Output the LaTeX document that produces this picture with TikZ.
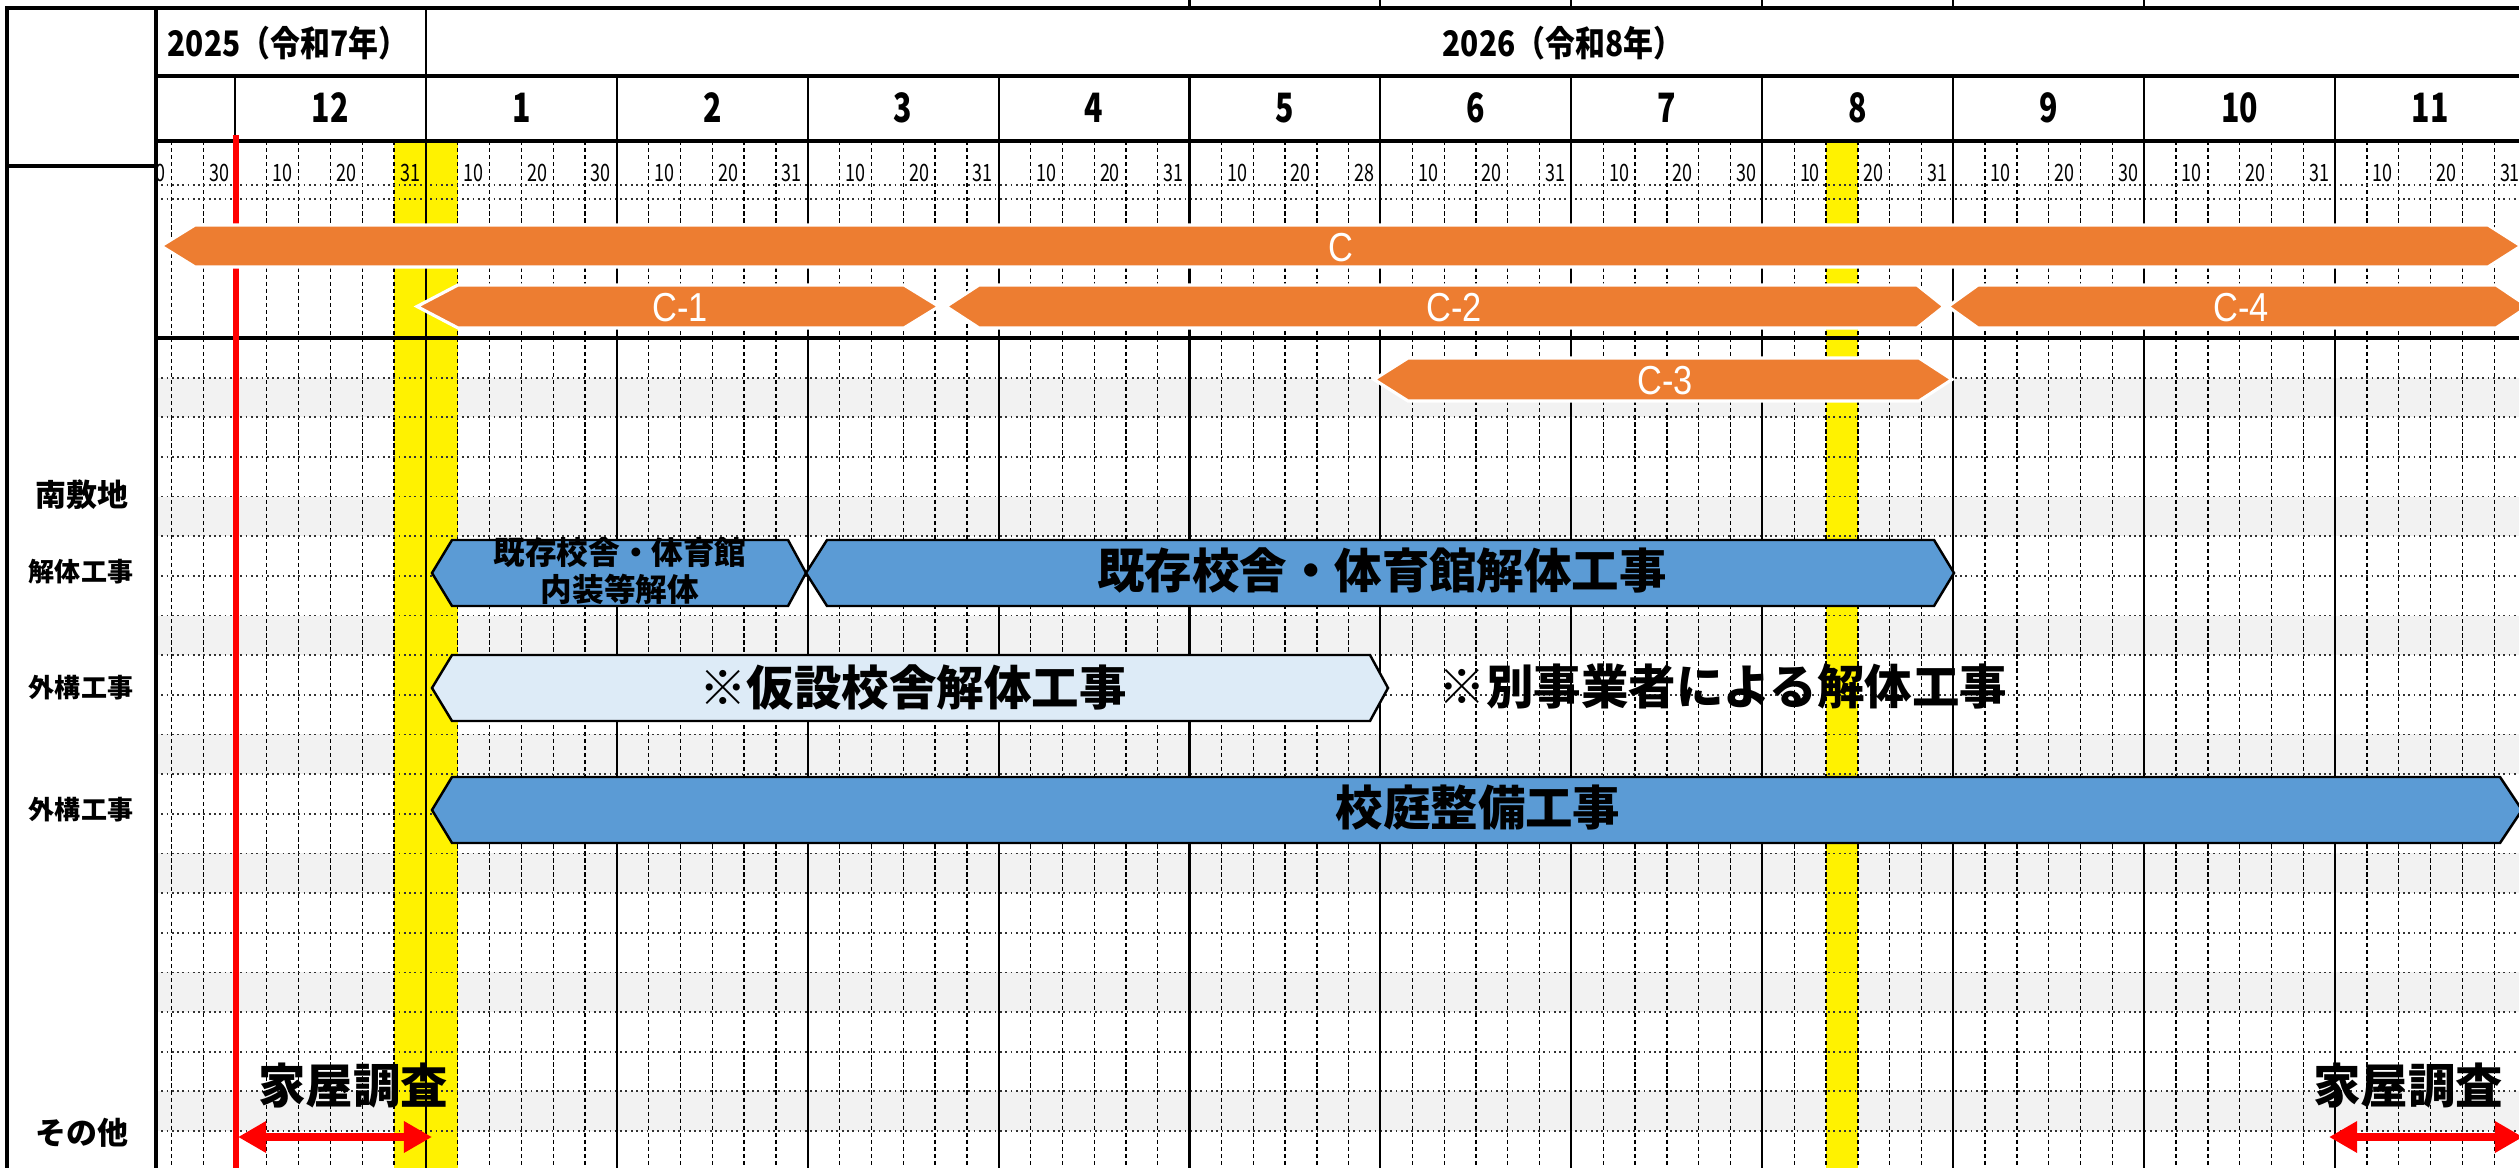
\documentclass[tikz,border=0pt]{standalone}
\usepackage{fontspec}
\setmainfont{Noto Sans CJK JP}
\newfontfamily\latinsans{Liberation Sans}
\usepackage{graphicx}
\usetikzlibrary{arrows.meta}
\definecolor{barorange}{HTML}{ED7D31}
\definecolor{barblue}{HTML}{5B9BD5}
\definecolor{barpale}{HTML}{DDEBF7}
\definecolor{rowgray}{HTML}{F2F2F2}

\begin{document}
\begin{tikzpicture}[
  x=0.01cm, y=-0.01cm,
  every node/.style={inner sep=0pt},
  subline/.style={line width=0.37pt,dash pattern=on 1.2pt off 0.8pt},
  rowline/.style={line width=0.5pt,densely dotted,black!80},
  monline/.style={line width=0.6pt},
  frameline/.style={line width=1pt},
  obar/.style={fill=barorange,draw=white,line width=0.9pt},
  bbar/.style={fill=barblue,draw=black,line width=0.7pt},
  pbar/.style={fill=barpale,draw=black,line width=0.7pt},
  ctxt/.style={font=\latinsans\fontsize{11.5}{12}\selectfont,text=white},
  bigtxt/.style={font=\fontsize{13.5}{15}\selectfont\bfseries},
  side/.style={font=\fontsize{8.8}{10}\selectfont\bfseries},
  sidesm/.style={font=\fontsize{7.4}{9}\selectfont\bfseries},
  yeartxt/.style={font=\fontsize{10}{11}\selectfont\bfseries},
  mnum/.style={font=\fontsize{11.5}{12}\selectfont\bfseries},
  dnum/.style={font=\fontsize{6.8}{7}\selectfont},
  survey/.style={{Triangle[length=8pt,width=8.5pt]}-{Triangle[length=8pt,width=8.5pt]},red,line width=2.3pt}
]
\useasboundingbox (0,0) rectangle (2519,1168);
\clip (0,0) rectangle (2519,1168);
\fill[white] (0,0) rectangle (2519,1168);

% shaded rows and highlighted days
\foreach \n in {1,4,...,19}
  \fill[rowgray] (156,{338+\n*39.65}) rectangle (2519,{338+(\n+1)*39.65});
\fill[yellow] (394.1,141) rectangle (457.7,1168);
\fill[yellow] (1825.8,141) rectangle (1857.7,1168);

% grid
\foreach \k in {-2,...,71}
  \draw[subline] ({235+\k*31.82},141) -- ({235+\k*31.82},1168);
\foreach \n in {1,...,20}
  \draw[rowline] (156,{338+\n*39.65}) -- (2519,{338+\n*39.65});
\draw[rowline] (156,185) -- (2519,185);
\draw[rowline] (156,199) -- (2519,199);
\foreach \m in {0,...,11}
  \draw[monline] ({235+\m*190.9},76) -- ({235+\m*190.9},1168);
\foreach \m in {5,...,10}
  \draw[monline] ({235+\m*190.9},0) -- ({235+\m*190.9},8);
\draw[monline] (426,8) -- (426,76);
\draw[line width=1.2pt] (7,1168) -- (7,8) -- (2519,8);
\draw[frameline] (156,8) -- (156,1168);
\draw[frameline] (156,76) -- (2519,76);
\draw[frameline] (156,141) -- (2519,141);
\draw[frameline] (7,166) -- (156,166);
\draw[frameline] (156,338) -- (2519,338);

% header
\node[yeartxt,anchor=west] (y2025) at (167,43) {\scalebox{0.85}[1]{2025（令和7年）}};
\node[yeartxt] (y2026) at (1563,43) {\scalebox{0.85}[1]{2026（令和8年）}};
\foreach \lab [count=\i from 0] in {12,1,2,3,4,5,6,7,8,9,10,11}
  \node[mnum] (mon\i) at ({235+(\i+0.5)*190.9},108) {\scalebox{0.75}[1]{\lab}};
\foreach \last [count=\i from 0] in {31,30,31,31,31,28,31,30,31,30,31,31} {
  \node[dnum] (day\i a) at ({235+\i*190.9+1.5*31.82},173) {\scalebox{0.75}[1]{10}};
  \node[dnum] (day\i b) at ({235+\i*190.9+3.5*31.82},173) {\scalebox{0.75}[1]{20}};
  \node[dnum] (day\i c) at ({235+\i*190.9+5.5*31.82},173) {\scalebox{0.75}[1]{\last}};
}
\begin{scope}
  \clip (156,141) rectangle (2519,200);
  \node[dnum] (daypb) at ({235-2.5*31.82},173) {\scalebox{0.75}[1]{20}};
  \node[dnum] (daypc) at ({235-0.5*31.82},173) {\scalebox{0.75}[1]{30}};
\end{scope}

% today line
\draw[red,line width=1.7pt] (236,135) -- (236,1168);

% row titles
\node[side] (south) at (82,495) {南敷地};
\node[sidesm] (demo) at (81,572) {解体工事};
\node[sidesm] (ext1) at (81,688) {外構工事};
\node[sidesm] (ext2) at (81,810) {外構工事};
\node[side] (misc) at (82,1133) {その他};

% orange bars
\draw[obar] (161,246) -- (195,225) -- (2488,225) -- (2521,246) -- (2488,267) -- (195,267) -- cycle;
\draw[obar] (417,306.5) -- (458,285) -- (904,285) -- (939,306.5) -- (904,328) -- (458,328) -- cycle;
\draw[obar] (946,306.5) -- (979,285) -- (1917,285) -- (1944,306.5) -- (1917,328) -- (979,328) -- cycle;
\draw[obar] (1948,306.5) -- (1978,285) -- (2496,285) -- (2528,306.5) -- (2496,328) -- (1978,328) -- cycle;
\draw[obar] (1374,379.5) -- (1408,358) -- (1919,358) -- (1952,379.5) -- (1919,401) -- (1408,401) -- cycle;
\node[ctxt] (c) at (1341,248) {\scalebox{0.85}[1]{C}};
\node[ctxt] (c1) at (680,308) {\scalebox{0.85}[1]{C-1}};
\node[ctxt] (c2) at (1454,308) {\scalebox{0.85}[1]{C-2}};
\node[ctxt] (c4) at (2241,308) {\scalebox{0.85}[1]{C-4}};
\node[ctxt] (c3) at (1665,381) {\scalebox{0.85}[1]{C-3}};

% blue bars
\draw[bbar] (432,573) -- (452,540) -- (788,540) -- (806,573) -- (788,606) -- (452,606) -- cycle;
\draw[bbar] (806,573) -- (827,540) -- (1934,540) -- (1954,573) -- (1934,606) -- (827,606) -- cycle;
\draw[pbar] (432,688) -- (452,655) -- (1370,655) -- (1388,688) -- (1370,721) -- (452,721) -- cycle;
\draw[bbar] (432,810) -- (452,777) -- (2500,777) -- (2522,810) -- (2500,843) -- (452,843) -- cycle;
\node[font=\fontsize{9}{10.5}\selectfont\bfseries,align=center] (inner) at (620,571) {既存校舎・体育館\\内装等解体};
\node[bigtxt] (demolish) at (1382,570) {既存校舎・体育館解体工事};
\node[bigtxt] (temp) at (913,687) {※仮設校舎解体工事};
\node[bigtxt] (byother) at (1723,687) {※別事業者による解体工事};
\node[bigtxt] (yard) at (1478,808) {校庭整備工事};

% house survey
\node[bigtxt] (svy1) at (353,1086) {家屋調査};
\node[bigtxt] (svy2) at (2408,1086) {家屋調査};
\coordinate (sv1l) at (238,1137);
\coordinate (sv1r) at (432,1137);
\coordinate (sv2l) at (2329,1137);
\coordinate (sv2r) at (2523,1137);
\draw[survey] (sv1l) -- (sv1r);
\draw[survey] (sv2l) -- (sv2r);
\end{tikzpicture}
\end{document}
